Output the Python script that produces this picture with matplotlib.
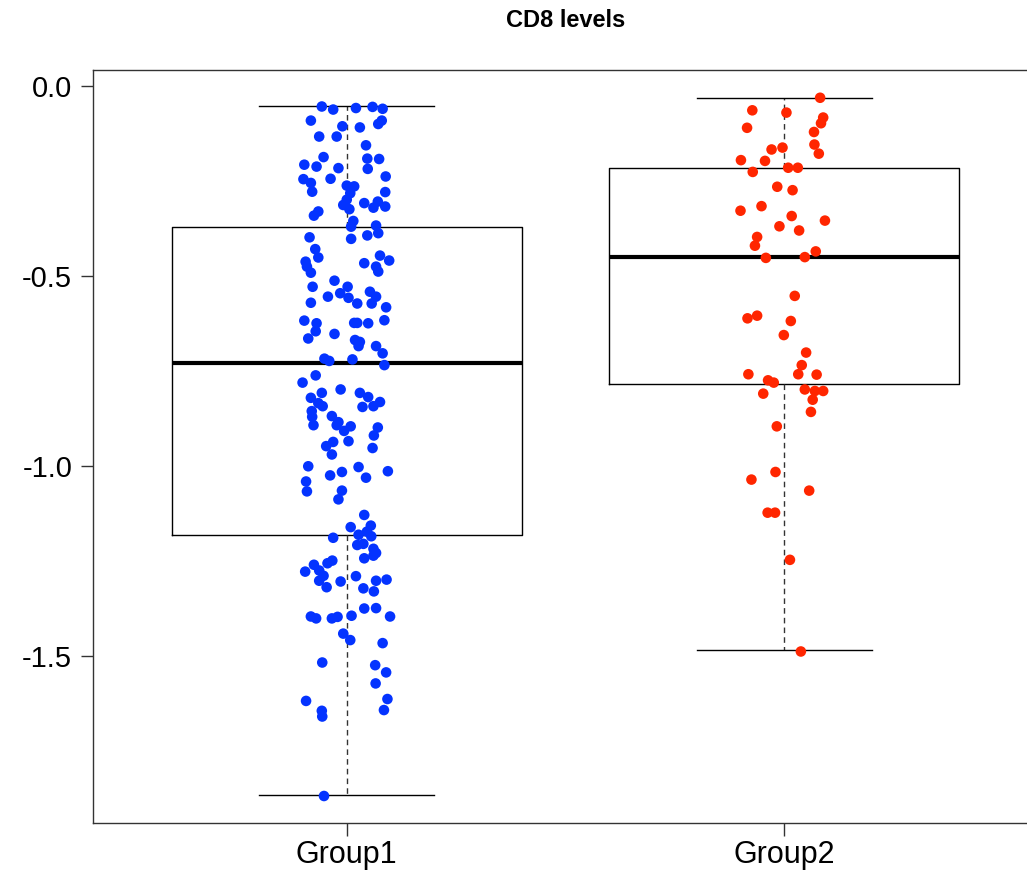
#! /usr/bin/env python3

import numpy as np
import matplotlib
matplotlib.use('Agg')
import matplotlib.pyplot as plt

plt.rcParams['font.family'] = ['Liberation Sans', 'DejaVu Sans']

###########################################
# data
groups = ['Group1', 'Group2']

# box stats: lower whisker, q1, median, q3, upper whisker
g1_stats = [-1.866, -1.182, -0.729, -0.371, -0.053]
g2_stats = [-1.484, -0.784, -0.450, -0.216, -0.032]

# Group1 points (jitter offset from group centre, value)
g1_jit = [-0.057, -0.031, 0.021, 0.059, 0.082, -0.082, -0.010, 0.030, 0.072, 0.080,
          -0.063, -0.023, 0.044, -0.053, 0.047, 0.074, -0.097, -0.069, -0.019, 0.048,
          0.089, -0.099, -0.082, -0.037, -0.079, 0.000, 0.017, 0.088, 0.008, 0.000,
          -0.008, 0.006, 0.040, 0.061, 0.071, 0.088, -0.065, -0.075, 0.015, 0.010,
          0.067, -0.085, 0.010, 0.047, 0.072, -0.072, -0.065, -0.094, 0.076, 0.097,
          0.040, 0.067, -0.091, -0.082, 0.072,
          -0.028, -0.078, 0.002, -0.043, -0.015, 0.004, 0.053, 0.067, 0.057, 0.024,
          -0.082, 0.090, -0.097, -0.069, -0.071, 0.017, 0.024, 0.049, 0.086, -0.028,
          -0.088, 0.019, 0.030, 0.027, 0.067, 0.082, -0.051, -0.040, 0.013, 0.086,
          -0.071, -0.101, -0.014, -0.057, -0.082, 0.030, 0.049, -0.065, -0.055, 0.076,
          0.061, 0.036, -0.080, -0.079, -0.034, -0.019, -0.023, 0.009, -0.006, -0.076,
          0.071, 0.062, -0.031, -0.047, 0.004, 0.059,
          -0.034, -0.088, -0.038, -0.011, 0.027, 0.044, 0.094, -0.093, -0.091, -0.011,
          -0.019, 0.040, 0.009, 0.055, 0.046, 0.027, 0.056, -0.031, 0.024, 0.038,
          0.061, 0.067, 0.061, 0.040, -0.033, -0.044, -0.075, -0.095, -0.063, -0.053,
          -0.063, -0.014, 0.021, 0.067, 0.091, -0.046, 0.038, 0.062, -0.082, -0.070,
          -0.034, -0.021, 0.011, 0.040, 0.067, 0.099,
          -0.008, 0.008, 0.082, -0.056, 0.065, 0.090, 0.066, -0.093, 0.093, -0.057,
          -0.056, 0.085, -0.052]
g1_vals = [-0.055, -0.063, -0.059, -0.056, -0.061, -0.092, -0.107, -0.110, -0.101, -0.092,
           -0.134, -0.134, -0.157, -0.188, -0.192, -0.193, -0.208, -0.213, -0.217, -0.219,
           -0.239, -0.246, -0.256, -0.245, -0.279, -0.263, -0.265, -0.280, -0.283, -0.300,
           -0.314, -0.325, -0.309, -0.321, -0.305, -0.318, -0.331, -0.342, -0.356, -0.371,
           -0.368, -0.399, -0.403, -0.394, -0.388, -0.430, -0.452, -0.463, -0.447, -0.460,
           -0.467, -0.476, -0.476, -0.492, -0.489,
           -0.513, -0.529, -0.529, -0.555, -0.546, -0.558, -0.542, -0.555, -0.573, -0.573,
           -0.571, -0.583, -0.618, -0.625, -0.646, -0.624, -0.624, -0.625, -0.617, -0.653,
           -0.665, -0.669, -0.674, -0.685, -0.685, -0.704, -0.718, -0.724, -0.720, -0.735,
           -0.762, -0.781, -0.799, -0.808, -0.821, -0.808, -0.819, -0.835, -0.843, -0.832,
           -0.843, -0.845, -0.856, -0.871, -0.869, -0.885, -0.893, -0.896, -0.908, -0.893,
           -0.899, -0.920, -0.937, -0.948, -0.935, -0.953,
           -0.970, -1.001, -1.025, -1.016, -1.003, -1.031, -1.014, -1.041, -1.067, -1.065,
           -1.088, -1.129, -1.161, -1.157, -1.173, -1.181, -1.185, -1.189, -1.208, -1.205,
           -1.218, -1.229, -1.236, -1.243, -1.249, -1.256, -1.260, -1.278, -1.275, -1.289,
           -1.302, -1.304, -1.290, -1.302, -1.299, -1.319, -1.322, -1.330, -1.396, -1.401,
           -1.401, -1.397, -1.394, -1.375, -1.374, -1.396,
           -1.441, -1.458, -1.466, -1.517, -1.524, -1.543, -1.572, -1.618, -1.613, -1.644,
           -1.659, -1.642, -1.868]

# Group2 points
g2_jit = [0.082, -0.073, 0.005, 0.089, 0.084, -0.085, 0.068, 0.069, 0.079, -0.029,
          -0.004, -0.099, -0.044, -0.072, 0.009, 0.031, -0.016, 0.019, -0.100, -0.052,
          0.017, 0.093, -0.011, 0.034, -0.062, -0.067, -0.042, 0.047, 0.072,
          0.024, -0.084, -0.062, 0.015, -0.001, 0.050, 0.040, 0.032, 0.074, -0.082,
          -0.037, -0.024, -0.048, 0.047, 0.070, 0.089, 0.065, 0.061, -0.017,
          -0.020, -0.075, 0.057, -0.038, -0.021, 0.013, 0.038]
g2_vals = [-0.032, -0.065, -0.071, -0.084, -0.099, -0.111, -0.122, -0.155, -0.179, -0.168,
           -0.163, -0.196, -0.198, -0.227, -0.216, -0.216, -0.266, -0.275, -0.329, -0.317,
           -0.343, -0.355, -0.370, -0.381, -0.398, -0.421, -0.453, -0.451, -0.436,
           -0.553, -0.612, -0.605, -0.619, -0.656, -0.702, -0.735, -0.759, -0.760, -0.759,
           -0.775, -0.781, -0.810, -0.799, -0.803, -0.803, -0.826, -0.858, -0.896,
           -1.016, -1.036, -1.065, -1.123, -1.123, -1.247, -1.488]

colors = ['#0433FF', '#FF2600']


###########################################
def main():
    W, H = 1027, 881
    fig = plt.figure(figsize=(W / 100, H / 100), dpi=100)
    # plot region in pixels: left 93, top 70, bottom 823, right runs off the canvas
    left, top, bottom, right = 93, 70, 823, 1038
    ax = fig.add_axes([left / W, 1 - bottom / H, (right - left) / W, (bottom - top) / H])

    # boxes
    stats = []
    for name, s in zip(groups, [g1_stats, g2_stats]):
        stats.append(dict(label=name, whislo=s[0], q1=s[1], med=s[2], q3=s[3], whishi=s[4]))
    ax.bxp(stats, positions=[1, 2], widths=0.8, capwidths=0.4, showfliers=False,
           boxprops=dict(color='black', linewidth=1.0),
           medianprops=dict(color='black', linewidth=3.0),
           whiskerprops=dict(color='#333333', linewidth=1.0, linestyle=(0, (4, 3))),
           capprops=dict(color='black', linewidth=1.0))

    # jittered points on top
    for i, (jit, vals) in enumerate([(g1_jit, g1_vals), (g2_jit, g2_vals)]):
        xs = i + 1 + np.array(jit)
        ax.scatter(xs, vals, s=58, color=colors[i], edgecolors='none', zorder=5)

    ax.set_xlim(0.42, 2.58)
    ax.set_ylim(-1.939, 0.041)
    ax.set_yticks([0.0, -0.5, -1.0, -1.5])
    ax.set_yticklabels(['0.0', '-0.5', '-1.0', '-1.5'])
    ax.set_xticks([1, 2])
    ax.set_xticklabels(groups)
    ax.tick_params(axis='y', length=9, width=1, labelsize=21, pad=6, color='#333333')
    ax.tick_params(axis='x', length=9, width=1, labelsize=22, pad=3, color='#333333')
    for sp in ax.spines.values():
        sp.set_color('#333333')
        sp.set_linewidth(1.0)

    ax.set_title('CD8 levels', fontsize=17, fontweight='bold', pad=31)

    fig.savefig('out.png', dpi=100)


###########################################
main()
